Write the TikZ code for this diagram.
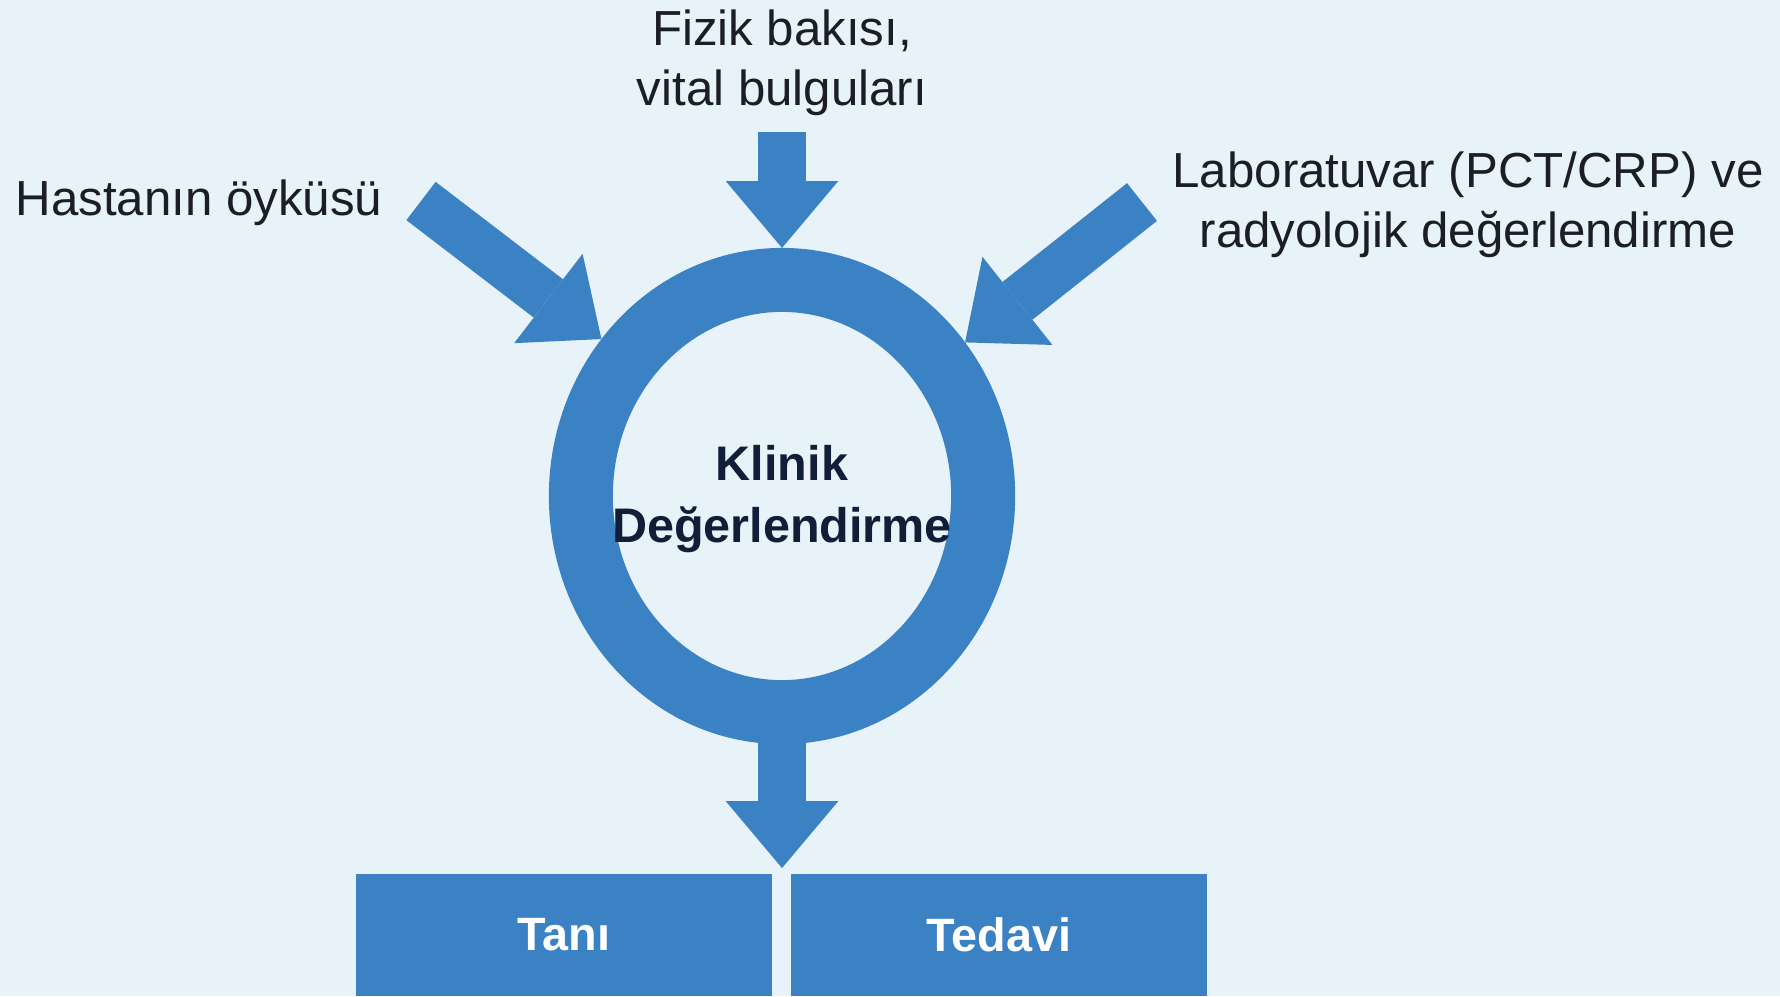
\documentclass[tikz,border=0pt]{standalone}
\usepackage{fontspec}
\setmainfont{Liberation Sans}
\usetikzlibrary{arrows.meta,shapes.geometric}
\definecolor{bg}{RGB}{232,242,249}
\definecolor{ablue}{RGB}{58,130,196}
\definecolor{labeltxt}{RGB}{28,30,38}
\definecolor{navy}{RGB}{16,30,56}
\begin{document}
\begin{tikzpicture}[x=0.01cm,y=-0.01cm,
  lbl/.style={text=labeltxt,font=\fontsize{14}{17}\selectfont,align=center,inner sep=0pt},
  blockarrow/.style={draw=ablue,line width=13.7pt,-{Triangle[length=19pt,width=32pt,line width=0pt]}},
  ring/.style={ellipse,draw=ablue,line width=18.2pt,minimum width=114.4pt,minimum height=122.9pt,inner sep=0pt},
  outbox/.style={rectangle,fill=ablue,minimum width=118.4pt,minimum height=34.7pt,inner sep=0pt,text=white,font=\bfseries\fontsize{13.3}{16}\selectfont}]
\fill[bg] (0,0) rectangle (1780,996);
\useasboundingbox (0,0) rectangle (1780,996);

% labels
\node[lbl] (hist) at (199,203) {Hastanın öyküsü};
\node[lbl] (fizik) at (782,63) {Fizik bakısı,\\vital bulguları};
\node[lbl] (lab) at (1468,205) {Laboratuvar (PCT/CRP) ve\\radyolojik değerlendirme};

% ring
\node[ring] (ring) at (782,496) {};
\node[text=navy,font=\bfseries\fontsize{13.8}{17.5}\selectfont,align=center,inner sep=0pt] (klinik) at (782,499) {Klinik\\Değerlendirme};

% output boxes
\node[outbox] (tani) at (564,935) {Tanı};
\node[outbox] (tedavi) at (999,935) {Tedavi};

% arrow tails
\coordinate (tL) at (421,201);
\coordinate (tT) at (782,132);
\coordinate (tR) at (1142,202);
\coordinate (stem) at (782,690);
\coordinate (tipB) at (782,868);

\draw[blockarrow] (tL) -- (ring.139.7);
\draw[blockarrow] (tT) -- (ring.north);
\draw[blockarrow] (tR) -- (ring.40.3);
\draw[blockarrow] (stem) -- (tipB);
\end{tikzpicture}
\end{document}
